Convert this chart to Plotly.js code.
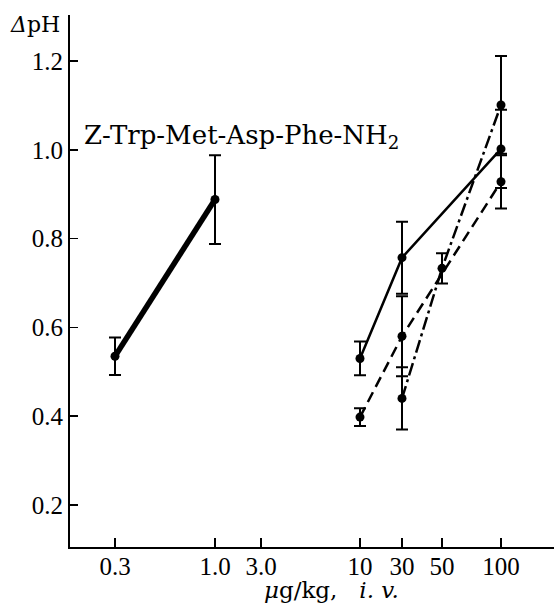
<!DOCTYPE html>
<html>
<head>
<meta charset="utf-8">
<script src="https://cdn.plot.ly/plotly-3.0.1.min.js"></script>
<style>html,body{margin:0;padding:0;background:#fff;}#chart{width:554px;height:604px;}</style>
</head>
<body>
<div id="chart"></div>
<script>
// Dose axis: the x scale is a broken, non-uniform dose scale
const doseLabels = ['0.3', '1.0', '3.0', '10', '30', '50', '100'];
const doseValues = [0.3, 1.0, 3.0, 10, 30, 50, 100];
const doseAxisPos = [45, 145, 191, 290, 332, 372, 431];

// Series (ΔpH, mean ± error)
const thickDose = [0.3, 1.0];
const thickPH = [0.535, 0.888];
const thickErr = [0.042, 0.100];

const solidDose = [10, 30, 100];
const solidPH = [0.530, 0.757, 1.002];
const solidErr = [0.038, 0.081, 0.088];

const dashDose = [10, 30, 100];
const dashPH = [0.398, 0.580, 0.928];
const dashErr = [0.020, 0.090, 0.060];

const dotDashDose = [30, 50, 100];
const dotDashPH = [0.440, 0.733, 1.101];
const dotDashErr = [0.070, 0.034, 0.110];

const yTicks = [0.2, 0.4, 0.6, 0.8, 1.0, 1.2];

function pos(d) { return doseAxisPos[doseValues.indexOf(d)]; }

const serif = "'Liberation Serif', 'DejaVu Serif', serif";

function series(doses, ph, err, width, dash) {
  return {
    x: doses.map(pos), y: ph, type: 'scatter', mode: 'lines+markers',
    line: {color: '#000', width: width, dash: dash},
    marker: {color: '#000', size: 9, symbol: 'circle'},
    error_y: {type: 'data', array: err, visible: true, color: '#000', thickness: 2, width: 6},
    cliponaxis: false, hoverinfo: 'none'
  };
}

const data = [
  series(thickDose, thickPH, thickErr, 5.5, 'solid'),
  series(solidDose, solidPH, solidErr, 2.5, 'solid'),
  series(dashDose, dashPH, dashErr, 2.5, '11px,6px'),
  series(dotDashDose, dotDashPH, dotDashErr, 2.5, '13px,4px,3px,4px')
];

const layout = {
  width: 554, height: 604,
  margin: {l: 70, r: 0, t: 15, b: 57},
  paper_bgcolor: '#fff', plot_bgcolor: '#fff',
  showlegend: false,
  font: {family: serif, color: '#000', size: 22},
  xaxis: {
    range: [0, 484], tickmode: 'array', tickvals: doseAxisPos, ticktext: doseLabels,
    showgrid: false, zeroline: false, showline: true, linecolor: '#000', linewidth: 2,
    ticks: 'inside', ticklen: 9, tickwidth: 1.5, tickcolor: '#000',
    ticklabelstandoff: -4,
    tickfont: {family: serif, size: 25, color: '#000'}
  },
  yaxis: {
    range: [0.1054, 1.3036], tickmode: 'array', tickvals: yTicks,
    ticktext: yTicks.map(v => v.toFixed(1)),
    showgrid: false, zeroline: false, showline: true, linecolor: '#000', linewidth: 2,
    ticks: 'inside', ticklen: 8, tickwidth: 1.5, tickcolor: '#000',
    tickfont: {family: serif, size: 25, color: '#000'}
  },
  annotations: [
    {xref: 'x', yref: 'y', x: 171, y: 1.03, text: 'Z-Trp-Met-Asp-Phe-NH<sub>2</sub>',
     showarrow: false, xanchor: 'center', yanchor: 'middle',
     font: {family: "'DejaVu Serif', serif", size: 26, color: '#000'}},
    {xref: 'paper', yref: 'paper', x: -0.016, y: 0.982, text: '<i>Δ</i>pH',
     showarrow: false, xanchor: 'right', yanchor: 'middle',
     font: {family: "'DejaVu Serif', serif", size: 22, color: '#000'}},
    {xref: 'x', yref: 'paper', x: 261, y: -0.08, text: '<i>μ</i>g/kg,   <i>i. v.</i>',
     showarrow: false, xanchor: 'center', yanchor: 'middle',
     font: {family: "'DejaVu Serif', serif", size: 23, color: '#000'}}
  ]
};

Plotly.newPlot('chart', data, layout, {displayModeBar: false, staticPlot: true});
</script>
</body>
</html>
